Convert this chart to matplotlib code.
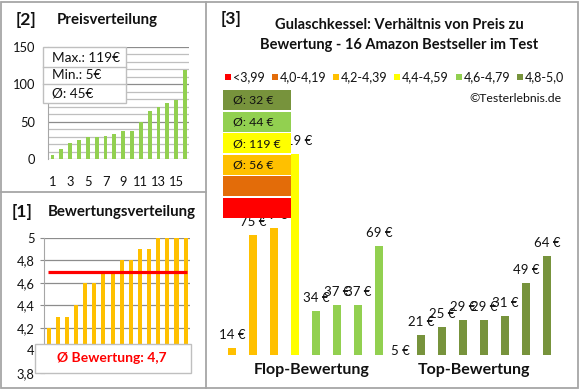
import numpy as np
import matplotlib
matplotlib.use("Agg")
import matplotlib.pyplot as plt
from matplotlib.patches import Rectangle
from matplotlib.ticker import MultipleLocator, FuncFormatter

plt.rcParams['font.family'] = ['Lato', 'DejaVu Sans']

# data
prices_sorted = [5, 14, 21, 25, 29, 29, 31, 34, 37, 37, 49, 64, 69, 75, 79, 119]
ratings_sorted = [4.2, 4.3, 4.3, 4.4, 4.6, 4.6, 4.7, 4.7, 4.8, 4.8, 4.9, 4.9, 5.0, 5.0, 5.0, 5.0]

flop_prices = [14, 75, 79, 119, 34, 37, 37, 69]
flop_ratings = [4.2, 4.3, 4.3, 4.4, 4.6, 4.6, 4.7, 4.7]
top_prices = [5, 21, 25, 29, 29, 31, 49, 64]
top_ratings = [4.8, 4.8, 4.9, 4.9, 5.0, 5.0, 5.0, 5.0]
group_labels = ["Flop-Bewertung", "Top-Bewertung"]

class_labels = ["<3,99", "4,0-4,19", "4,2-4,39", "4,4-4,59", "4,6-4,79", "4,8-5,0"]
class_edges = [4.0, 4.2, 4.4, 4.6, 4.8]
class_colors = ["#FF0000", "#E36C09", "#FFC000", "#FFFF00", "#92D050", "#77933C"]

W, H = 580, 390
GRID = "#A6A6A6"
TXT = "#111111"


def px_axes(fig, x0, y0, x1, y1, **kw):
    return fig.add_axes([x0 / W, 1 - y1 / H, (x1 - x0) / W, (y1 - y0) / H], **kw)


def de(v):
    return ("%g" % round(v, 1)).replace(".", ",")


fig = plt.figure(figsize=(W / 100, H / 100), dpi=100)

# ---- [2] Preisverteilung
ax2 = px_axes(fig, 48.1, 47, 189.4, 159)
x = np.arange(len(prices_sorted))
ax2.bar(x, prices_sorted, width=0.42, color="#92D050", zorder=3)
ax2.set_xlim(-0.5, len(prices_sorted) - 0.5)
ax2.set_ylim(0, 150)
ax2.yaxis.set_major_locator(MultipleLocator(50))
ax2.yaxis.set_minor_locator(MultipleLocator(10))
ax2.grid(axis="y", which="major", color="#8C8C8C", lw=0.9)
ax2.grid(axis="y", which="minor", color="#BFBFBF", lw=0.9)
ax2.set_xticks(x[::2])
ax2.set_xticklabels([str(i + 1) for i in x[::2]])
ax2.tick_params(axis="x", length=0, pad=12, labelsize=9.3, labelcolor=TXT)
ax2.tick_params(axis="y", which="both", length=0, pad=9, labelsize=9.3, labelcolor=TXT)
for s in ["top", "right", "bottom"]:
    ax2.spines[s].set_visible(False)
ax2.spines["left"].set_color(GRID)
ax2.set_axisbelow(True)

# ---- [1] Bewertungsverteilung
ax1 = px_axes(fig, 44.1, 237.7, 190.2, 373)
x1 = np.arange(len(ratings_sorted))
ax1.bar(x1, np.array(ratings_sorted) - 3.8, bottom=3.8, width=0.44, color="#FFC000", zorder=3)
mean_rating = np.mean(ratings_sorted)
ax1.hlines(mean_rating, -0.08, len(ratings_sorted) - 0.85, color="#FF0000", lw=2.3, zorder=4)
ax1.set_xlim(-0.5, len(ratings_sorted) - 0.5)
ax1.set_ylim(3.8, 5.0)
ax1.yaxis.set_major_locator(MultipleLocator(0.2))
ax1.yaxis.set_major_formatter(FuncFormatter(lambda v, p: de(v)))
ax1.grid(axis="y", color="#8C8C8C", lw=0.9)
ax1.set_xticks([])
ax1.tick_params(axis="y", length=3, color="#8C8C8C", pad=4, labelsize=9.3, labelcolor=TXT)
for s in ["top", "right", "bottom"]:
    ax1.spines[s].set_visible(False)
ax1.spines["left"].set_color(GRID)
ax1.set_axisbelow(True)

# ---- [3] Preis zu Bewertung
prices3 = flop_prices + top_prices
ratings3 = flop_ratings + top_ratings
cls3 = np.digitize(ratings3, class_edges)
ymin3 = 10
ax3 = px_axes(fig, 221.5, 140, 557.5, 355)
x3 = np.arange(len(prices3))
ax3.bar(x3, prices3, width=0.38, color=[class_colors[c] for c in cls3], zorder=3)
ax3.set_xlim(-0.5, len(prices3) - 0.5)
ax3.set_ylim(ymin3, ymin3 + 215 / 1.84)
ax3.axis("off")
for xi, v in zip(x3, prices3):
    ax3.annotate(f"{v} €", (xi, max(v, ymin3)), xytext=(0, 9.4 if v >= ymin3 else 3.2),
                 textcoords="offset points", ha="center", va="center",
                 fontsize=9.5, color=TXT, zorder=5)
n_flop = len(flop_prices)
centers = [(n_flop - 1) / 2 + 0.3, n_flop + (len(top_prices) - 1) / 2]
for cx, lab in zip(centers, group_labels):
    ax3.annotate(lab, (cx, 0), xycoords=("data", "axes fraction"), xytext=(0, -11),
                 textcoords="offset points", ha="center", va="center",
                 fontsize=11.5, fontweight="bold", color=TXT)

# ---- overlay: frames, titles, boxes
ov = fig.add_axes([0, 0, 1, 1], zorder=10)
ov.set_xlim(0, W)
ov.set_ylim(H, 0)
ov.axis("off")
ov.patch.set_alpha(0)

ov.add_patch(Rectangle((1, 1.5), 577, 386, fill=False, ec=GRID, lw=1.3))
ov.plot([205.5, 205.5], [1.5, 387.5], color=GRID, lw=1.3)
ov.plot([1, 205.5], [192, 192], color=GRID, lw=1.3)

ov.text(16, 20, "[2]", fontsize=12.5, fontweight="bold", va="center", color=TXT)
ov.text(57, 20, "Preisverteilung", fontsize=10.8, fontweight="bold", va="center", color=TXT)
ov.text(12, 212, "[1]", fontsize=12.5, fontweight="bold", va="center", color=TXT)
ov.text(48, 212, "Bewertungsverteilung", fontsize=10.8, fontweight="bold", va="center", color=TXT)
ov.text(221, 19, "[3]", fontsize=12.5, fontweight="bold", va="center", color=TXT)
ov.text(399, 25, "Gulaschkessel: Verhältnis von Preis zu", fontsize=10.5, fontweight="bold",
        ha="center", va="center", color=TXT)
ov.text(399, 45, "Bewertung - 16 Amazon Bestseller im Test", fontsize=10.5, fontweight="bold",
        ha="center", va="center", color=TXT)

# legend
leg_x = [225, 271.7, 332.7, 394, 455.7, 516.7]
for lx, lab, col in zip(leg_x, class_labels, class_colors):
    ov.add_patch(Rectangle((lx, 74), 6, 6, color=col, lw=0))
    ov.text(lx + 8, 77.5, lab, fontsize=9, va="center", color=TXT)
ov.text(562, 98, "©Testerlebnis.de", fontsize=8.8, ha="right", va="center", color=TXT)

# class boxes (highest class on top)
for i, c in enumerate(range(len(class_colors) - 1, -1, -1)):
    y0 = 90 + i * 21.6
    ov.add_patch(Rectangle((223, y0), 68, 20, color=class_colors[c], lw=0))
    vals = [p for p, k in zip(prices3, cls3) if k == c]
    if vals:
        ov.text(233, y0 + 10.5, f"Ø: {np.mean(vals):.0f} €", fontsize=8.8, va="center", color=TXT)

# stats box in [2]
ov.add_patch(Rectangle((42.7, 47), 83.5, 56, fc="white", ec="#BFBFBF", lw=1))
ov.plot([42.7, 126.2], [67, 67], color="#BFBFBF", lw=1)
ov.plot([42.7, 126.2], [83.5, 83.5], color="#BFBFBF", lw=1)
stats = [f"Max.: {max(prices_sorted)}€", f"Min.: {min(prices_sorted)}€",
         f"Ø: {np.mean(prices_sorted):.0f}€"]
for yy, s in zip([57.5, 75, 93], stats):
    ov.text(52, yy, s, fontsize=9.8, va="center", color=TXT)

# mean box in [1]
ov.add_patch(Rectangle((35, 344), 156, 29, fc="white", ec="#BFBFBF", lw=1))
ov.text(112, 358.5, f"Ø Bewertung: {de(mean_rating)}", fontsize=10, fontweight="bold",
        ha="center", va="center", color="#FF0000")

fig.savefig("out.png", dpi=100)
